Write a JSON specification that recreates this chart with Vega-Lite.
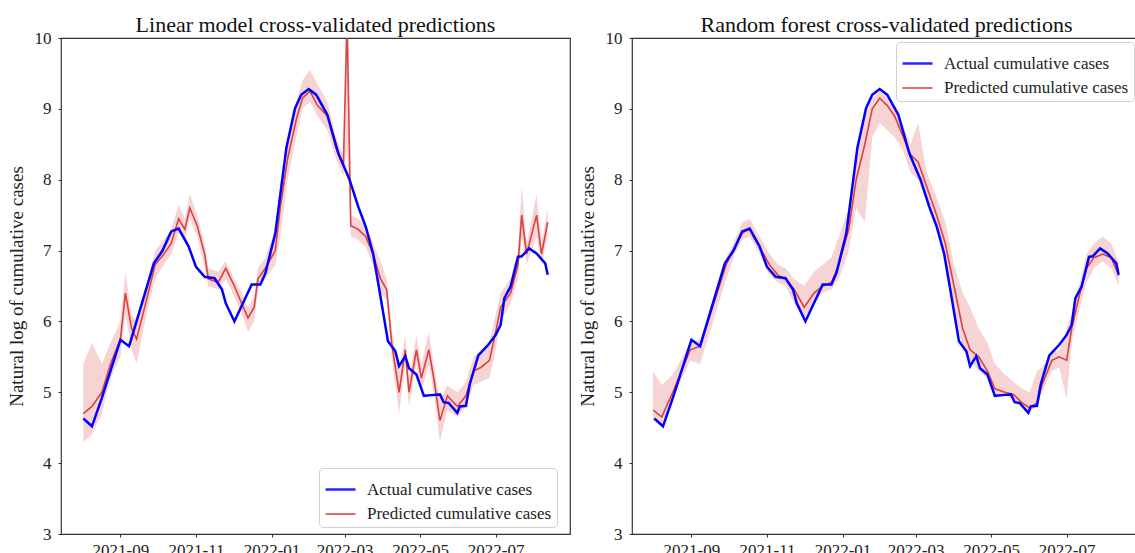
{
  "$schema": "https://vega.github.io/schema/vega-lite/v6.json",
  "background": "white",
  "padding": {"left": 6, "top": 13, "right": 0, "bottom": 0},
  "spacing": 6,
  "datasets": {
    "actual": [
      {"date": "2021-08-02", "value": 4.63, "series": "Actual cumulative cases"},
      {"date": "2021-08-09", "value": 4.52, "series": "Actual cumulative cases"},
      {"date": "2021-08-17", "value": 4.92, "series": "Actual cumulative cases"},
      {"date": "2021-09-01", "value": 5.74, "series": "Actual cumulative cases"},
      {"date": "2021-09-08", "value": 5.65, "series": "Actual cumulative cases"},
      {"date": "2021-09-28", "value": 6.82, "series": "Actual cumulative cases"},
      {"date": "2021-10-05", "value": 7.0, "series": "Actual cumulative cases"},
      {"date": "2021-10-12", "value": 7.27, "series": "Actual cumulative cases"},
      {"date": "2021-10-18", "value": 7.31, "series": "Actual cumulative cases"},
      {"date": "2021-10-26", "value": 7.06, "series": "Actual cumulative cases"},
      {"date": "2021-11-01", "value": 6.77, "series": "Actual cumulative cases"},
      {"date": "2021-11-08", "value": 6.63, "series": "Actual cumulative cases"},
      {"date": "2021-11-16", "value": 6.61, "series": "Actual cumulative cases"},
      {"date": "2021-11-22", "value": 6.45, "series": "Actual cumulative cases"},
      {"date": "2021-11-25", "value": 6.26, "series": "Actual cumulative cases"},
      {"date": "2021-12-02", "value": 6.0, "series": "Actual cumulative cases"},
      {"date": "2021-12-16", "value": 6.52, "series": "Actual cumulative cases"},
      {"date": "2021-12-23", "value": 6.52, "series": "Actual cumulative cases"},
      {"date": "2021-12-27", "value": 6.68, "series": "Actual cumulative cases"},
      {"date": "2022-01-04", "value": 7.24, "series": "Actual cumulative cases"},
      {"date": "2022-01-13", "value": 8.45, "series": "Actual cumulative cases"},
      {"date": "2022-01-20", "value": 9.01, "series": "Actual cumulative cases"},
      {"date": "2022-01-25", "value": 9.2, "series": "Actual cumulative cases"},
      {"date": "2022-01-31", "value": 9.28, "series": "Actual cumulative cases"},
      {"date": "2022-02-06", "value": 9.2, "series": "Actual cumulative cases"},
      {"date": "2022-02-15", "value": 8.92, "series": "Actual cumulative cases"},
      {"date": "2022-02-24", "value": 8.37, "series": "Actual cumulative cases"},
      {"date": "2022-03-05", "value": 8.0, "series": "Actual cumulative cases"},
      {"date": "2022-03-12", "value": 7.62, "series": "Actual cumulative cases"},
      {"date": "2022-03-18", "value": 7.34, "series": "Actual cumulative cases"},
      {"date": "2022-03-24", "value": 6.96, "series": "Actual cumulative cases"},
      {"date": "2022-03-29", "value": 6.45, "series": "Actual cumulative cases"},
      {"date": "2022-04-05", "value": 5.72, "series": "Actual cumulative cases"},
      {"date": "2022-04-11", "value": 5.58, "series": "Actual cumulative cases"},
      {"date": "2022-04-14", "value": 5.37, "series": "Actual cumulative cases"},
      {"date": "2022-04-19", "value": 5.51, "series": "Actual cumulative cases"},
      {"date": "2022-04-22", "value": 5.34, "series": "Actual cumulative cases"},
      {"date": "2022-04-28", "value": 5.25, "series": "Actual cumulative cases"},
      {"date": "2022-05-04", "value": 4.95, "series": "Actual cumulative cases"},
      {"date": "2022-05-10", "value": 4.96, "series": "Actual cumulative cases"},
      {"date": "2022-05-17", "value": 4.97, "series": "Actual cumulative cases"},
      {"date": "2022-05-20", "value": 4.86, "series": "Actual cumulative cases"},
      {"date": "2022-05-24", "value": 4.85, "series": "Actual cumulative cases"},
      {"date": "2022-05-31", "value": 4.71, "series": "Actual cumulative cases"},
      {"date": "2022-06-02", "value": 4.8, "series": "Actual cumulative cases"},
      {"date": "2022-06-07", "value": 4.81, "series": "Actual cumulative cases"},
      {"date": "2022-06-10", "value": 5.11, "series": "Actual cumulative cases"},
      {"date": "2022-06-17", "value": 5.52, "series": "Actual cumulative cases"},
      {"date": "2022-06-25", "value": 5.67, "series": "Actual cumulative cases"},
      {"date": "2022-07-01", "value": 5.81, "series": "Actual cumulative cases"},
      {"date": "2022-07-05", "value": 5.95, "series": "Actual cumulative cases"},
      {"date": "2022-07-08", "value": 6.33, "series": "Actual cumulative cases"},
      {"date": "2022-07-13", "value": 6.49, "series": "Actual cumulative cases"},
      {"date": "2022-07-19", "value": 6.91, "series": "Actual cumulative cases"},
      {"date": "2022-07-22", "value": 6.92, "series": "Actual cumulative cases"},
      {"date": "2022-07-28", "value": 7.03, "series": "Actual cumulative cases"},
      {"date": "2022-08-03", "value": 6.96, "series": "Actual cumulative cases"},
      {"date": "2022-08-10", "value": 6.82, "series": "Actual cumulative cases"},
      {"date": "2022-08-12", "value": 6.66, "series": "Actual cumulative cases"}
    ],
    "lin": [
      {"date": "2021-08-02", "lo": 4.3, "mid": 4.7, "hi": 5.4, "series": "Predicted cumulative cases"},
      {"date": "2021-08-09", "lo": 4.4, "mid": 4.8, "hi": 5.7, "series": "Predicted cumulative cases"},
      {"date": "2021-08-17", "lo": 4.7, "mid": 5.0, "hi": 5.4, "series": "Predicted cumulative cases"},
      {"date": "2021-08-24", "lo": 5.2, "mid": 5.4, "hi": 5.7, "series": "Predicted cumulative cases"},
      {"date": "2021-09-01", "lo": 5.5, "mid": 5.75, "hi": 6.0, "series": "Predicted cumulative cases"},
      {"date": "2021-09-05", "lo": 6.1, "mid": 6.4, "hi": 6.7, "series": "Predicted cumulative cases"},
      {"date": "2021-09-10", "lo": 5.6, "mid": 5.9, "hi": 6.1, "series": "Predicted cumulative cases"},
      {"date": "2021-09-14", "lo": 5.4, "mid": 5.75, "hi": 6.0, "series": "Predicted cumulative cases"},
      {"date": "2021-09-22", "lo": 6.1, "mid": 6.3, "hi": 6.5, "series": "Predicted cumulative cases"},
      {"date": "2021-09-29", "lo": 6.6, "mid": 6.8, "hi": 7.0, "series": "Predicted cumulative cases"},
      {"date": "2021-10-06", "lo": 6.8, "mid": 6.95, "hi": 7.15, "series": "Predicted cumulative cases"},
      {"date": "2021-10-12", "lo": 6.95, "mid": 7.1, "hi": 7.3, "series": "Predicted cumulative cases"},
      {"date": "2021-10-18", "lo": 7.25, "mid": 7.45, "hi": 7.65, "series": "Predicted cumulative cases"},
      {"date": "2021-10-23", "lo": 7.15, "mid": 7.3, "hi": 7.45, "series": "Predicted cumulative cases"},
      {"date": "2021-10-27", "lo": 7.45, "mid": 7.6, "hi": 7.8, "series": "Predicted cumulative cases"},
      {"date": "2021-11-02", "lo": 7.2, "mid": 7.35, "hi": 7.5, "series": "Predicted cumulative cases"},
      {"date": "2021-11-08", "lo": 6.75, "mid": 6.95, "hi": 7.1, "series": "Predicted cumulative cases"},
      {"date": "2021-11-11", "lo": 6.5, "mid": 6.6, "hi": 6.75, "series": "Predicted cumulative cases"},
      {"date": "2021-11-19", "lo": 6.45, "mid": 6.55, "hi": 6.7, "series": "Predicted cumulative cases"},
      {"date": "2021-11-25", "lo": 6.6, "mid": 6.75, "hi": 6.85, "series": "Predicted cumulative cases"},
      {"date": "2021-12-02", "lo": 6.35, "mid": 6.5, "hi": 6.6, "series": "Predicted cumulative cases"},
      {"date": "2021-12-08", "lo": 6.1, "mid": 6.25, "hi": 6.4, "series": "Predicted cumulative cases"},
      {"date": "2021-12-13", "lo": 5.85, "mid": 6.05, "hi": 6.2, "series": "Predicted cumulative cases"},
      {"date": "2021-12-18", "lo": 6.0, "mid": 6.2, "hi": 6.35, "series": "Predicted cumulative cases"},
      {"date": "2021-12-21", "lo": 6.45, "mid": 6.6, "hi": 6.75, "series": "Predicted cumulative cases"},
      {"date": "2021-12-27", "lo": 6.6, "mid": 6.75, "hi": 6.9, "series": "Predicted cumulative cases"},
      {"date": "2022-01-04", "lo": 6.8, "mid": 7.0, "hi": 7.3, "series": "Predicted cumulative cases"},
      {"date": "2022-01-08", "lo": 7.2, "mid": 7.6, "hi": 7.9, "series": "Predicted cumulative cases"},
      {"date": "2022-01-14", "lo": 8.0, "mid": 8.3, "hi": 8.6, "series": "Predicted cumulative cases"},
      {"date": "2022-01-21", "lo": 8.6, "mid": 8.85, "hi": 9.1, "series": "Predicted cumulative cases"},
      {"date": "2022-01-26", "lo": 9.0, "mid": 9.15, "hi": 9.4, "series": "Predicted cumulative cases"},
      {"date": "2022-02-01", "lo": 9.1, "mid": 9.25, "hi": 9.55, "series": "Predicted cumulative cases"},
      {"date": "2022-02-07", "lo": 8.9, "mid": 9.05, "hi": 9.35, "series": "Predicted cumulative cases"},
      {"date": "2022-02-15", "lo": 8.7, "mid": 8.9, "hi": 9.1, "series": "Predicted cumulative cases"},
      {"date": "2022-02-22", "lo": 8.3, "mid": 8.45, "hi": 8.6, "series": "Predicted cumulative cases"},
      {"date": "2022-02-28", "lo": 8.05, "mid": 8.2, "hi": 8.35, "series": "Predicted cumulative cases"},
      {"date": "2022-03-03", "lo": 8.4, "mid": 10.3, "hi": 10.3, "series": "Predicted cumulative cases"},
      {"date": "2022-03-06", "lo": 7.2, "mid": 7.35, "hi": 7.5, "series": "Predicted cumulative cases"},
      {"date": "2022-03-12", "lo": 7.15, "mid": 7.3, "hi": 7.45, "series": "Predicted cumulative cases"},
      {"date": "2022-03-18", "lo": 7.05, "mid": 7.2, "hi": 7.35, "series": "Predicted cumulative cases"},
      {"date": "2022-03-24", "lo": 6.8, "mid": 6.95, "hi": 7.1, "series": "Predicted cumulative cases"},
      {"date": "2022-03-30", "lo": 6.4, "mid": 6.6, "hi": 6.85, "series": "Predicted cumulative cases"},
      {"date": "2022-04-04", "lo": 6.3, "mid": 6.45, "hi": 6.6, "series": "Predicted cumulative cases"},
      {"date": "2022-04-08", "lo": 5.5, "mid": 5.7, "hi": 5.9, "series": "Predicted cumulative cases"},
      {"date": "2022-04-14", "lo": 4.7, "mid": 5.0, "hi": 5.3, "series": "Predicted cumulative cases"},
      {"date": "2022-04-19", "lo": 5.4, "mid": 5.6, "hi": 5.8, "series": "Predicted cumulative cases"},
      {"date": "2022-04-22", "lo": 4.8, "mid": 5.0, "hi": 5.2, "series": "Predicted cumulative cases"},
      {"date": "2022-04-28", "lo": 5.4, "mid": 5.6, "hi": 5.8, "series": "Predicted cumulative cases"},
      {"date": "2022-05-02", "lo": 5.0, "mid": 5.2, "hi": 5.4, "series": "Predicted cumulative cases"},
      {"date": "2022-05-08", "lo": 5.4, "mid": 5.6, "hi": 5.85, "series": "Predicted cumulative cases"},
      {"date": "2022-05-12", "lo": 5.0, "mid": 5.2, "hi": 5.4, "series": "Predicted cumulative cases"},
      {"date": "2022-05-17", "lo": 4.3, "mid": 4.6, "hi": 4.9, "series": "Predicted cumulative cases"},
      {"date": "2022-05-23", "lo": 4.75, "mid": 4.95, "hi": 5.1, "series": "Predicted cumulative cases"},
      {"date": "2022-05-31", "lo": 4.65, "mid": 4.8, "hi": 5.0, "series": "Predicted cumulative cases"},
      {"date": "2022-06-07", "lo": 4.8, "mid": 4.95, "hi": 5.15, "series": "Predicted cumulative cases"},
      {"date": "2022-06-13", "lo": 5.1, "mid": 5.3, "hi": 5.5, "series": "Predicted cumulative cases"},
      {"date": "2022-06-19", "lo": 5.15, "mid": 5.35, "hi": 5.6, "series": "Predicted cumulative cases"},
      {"date": "2022-06-26", "lo": 5.2, "mid": 5.45, "hi": 5.7, "series": "Predicted cumulative cases"},
      {"date": "2022-07-01", "lo": 5.6, "mid": 5.85, "hi": 6.1, "series": "Predicted cumulative cases"},
      {"date": "2022-07-05", "lo": 6.0, "mid": 6.2, "hi": 6.4, "series": "Predicted cumulative cases"},
      {"date": "2022-07-13", "lo": 6.25, "mid": 6.4, "hi": 6.6, "series": "Predicted cumulative cases"},
      {"date": "2022-07-19", "lo": 6.6, "mid": 6.8, "hi": 7.0, "series": "Predicted cumulative cases"},
      {"date": "2022-07-22", "lo": 7.2, "mid": 7.5, "hi": 7.9, "series": "Predicted cumulative cases"},
      {"date": "2022-07-26", "lo": 6.8, "mid": 6.95, "hi": 7.1, "series": "Predicted cumulative cases"},
      {"date": "2022-08-03", "lo": 7.2, "mid": 7.5, "hi": 7.8, "series": "Predicted cumulative cases"},
      {"date": "2022-08-07", "lo": 6.8, "mid": 6.95, "hi": 7.1, "series": "Predicted cumulative cases"},
      {"date": "2022-08-12", "lo": 7.2, "mid": 7.4, "hi": 7.6, "series": "Predicted cumulative cases"}
    ],
    "rf": [
      {"date": "2021-08-01", "lo": 4.6, "mid": 4.75, "hi": 5.3, "series": "Predicted cumulative cases"},
      {"date": "2021-08-08", "lo": 4.55, "mid": 4.65, "hi": 5.1, "series": "Predicted cumulative cases"},
      {"date": "2021-08-17", "lo": 4.9, "mid": 5.0, "hi": 5.25, "series": "Predicted cumulative cases"},
      {"date": "2021-08-31", "lo": 5.45, "mid": 5.6, "hi": 5.7, "series": "Predicted cumulative cases"},
      {"date": "2021-09-08", "lo": 5.4, "mid": 5.65, "hi": 5.75, "series": "Predicted cumulative cases"},
      {"date": "2021-09-29", "lo": 6.6, "mid": 6.8, "hi": 6.9, "series": "Predicted cumulative cases"},
      {"date": "2021-10-06", "lo": 6.95, "mid": 7.05, "hi": 7.15, "series": "Predicted cumulative cases"},
      {"date": "2021-10-12", "lo": 7.15, "mid": 7.25, "hi": 7.4, "series": "Predicted cumulative cases"},
      {"date": "2021-10-18", "lo": 7.2, "mid": 7.3, "hi": 7.45, "series": "Predicted cumulative cases"},
      {"date": "2021-10-26", "lo": 6.95, "mid": 7.05, "hi": 7.2, "series": "Predicted cumulative cases"},
      {"date": "2021-11-03", "lo": 6.65, "mid": 6.8, "hi": 6.95, "series": "Predicted cumulative cases"},
      {"date": "2021-11-10", "lo": 6.55, "mid": 6.65, "hi": 6.8, "series": "Predicted cumulative cases"},
      {"date": "2021-11-16", "lo": 6.5, "mid": 6.6, "hi": 6.75, "series": "Predicted cumulative cases"},
      {"date": "2021-11-23", "lo": 6.25, "mid": 6.45, "hi": 6.6, "series": "Predicted cumulative cases"},
      {"date": "2021-12-01", "lo": 6.05, "mid": 6.2, "hi": 6.5, "series": "Predicted cumulative cases"},
      {"date": "2021-12-09", "lo": 6.25, "mid": 6.4, "hi": 6.7, "series": "Predicted cumulative cases"},
      {"date": "2021-12-16", "lo": 6.4, "mid": 6.5, "hi": 6.8, "series": "Predicted cumulative cases"},
      {"date": "2021-12-23", "lo": 6.45, "mid": 6.55, "hi": 6.9, "series": "Predicted cumulative cases"},
      {"date": "2021-12-29", "lo": 6.6, "mid": 6.8, "hi": 7.2, "series": "Predicted cumulative cases"},
      {"date": "2022-01-06", "lo": 7.0, "mid": 7.3, "hi": 7.6, "series": "Predicted cumulative cases"},
      {"date": "2022-01-12", "lo": 7.6, "mid": 8.0, "hi": 8.3, "series": "Predicted cumulative cases"},
      {"date": "2022-01-19", "lo": 7.4, "mid": 8.5, "hi": 8.9, "series": "Predicted cumulative cases"},
      {"date": "2022-01-25", "lo": 8.6, "mid": 9.0, "hi": 9.15, "series": "Predicted cumulative cases"},
      {"date": "2022-01-31", "lo": 8.8, "mid": 9.15, "hi": 9.25, "series": "Predicted cumulative cases"},
      {"date": "2022-02-06", "lo": 8.7, "mid": 9.05, "hi": 9.15, "series": "Predicted cumulative cases"},
      {"date": "2022-02-12", "lo": 8.6, "mid": 8.9, "hi": 9.0, "series": "Predicted cumulative cases"},
      {"date": "2022-02-18", "lo": 8.45, "mid": 8.65, "hi": 8.8, "series": "Predicted cumulative cases"},
      {"date": "2022-02-25", "lo": 8.1, "mid": 8.35, "hi": 8.5, "series": "Predicted cumulative cases"},
      {"date": "2022-03-03", "lo": 8.0, "mid": 8.25, "hi": 8.8, "series": "Predicted cumulative cases"},
      {"date": "2022-03-10", "lo": 7.7, "mid": 7.9, "hi": 8.1, "series": "Predicted cumulative cases"},
      {"date": "2022-03-18", "lo": 7.3, "mid": 7.5, "hi": 7.75, "series": "Predicted cumulative cases"},
      {"date": "2022-03-25", "lo": 6.9, "mid": 7.1, "hi": 7.4, "series": "Predicted cumulative cases"},
      {"date": "2022-04-01", "lo": 6.2, "mid": 6.5, "hi": 6.8, "series": "Predicted cumulative cases"},
      {"date": "2022-04-08", "lo": 5.6, "mid": 5.9, "hi": 6.4, "series": "Predicted cumulative cases"},
      {"date": "2022-04-14", "lo": 5.45, "mid": 5.6, "hi": 6.2, "series": "Predicted cumulative cases"},
      {"date": "2022-04-21", "lo": 5.3, "mid": 5.5, "hi": 5.9, "series": "Predicted cumulative cases"},
      {"date": "2022-04-28", "lo": 5.2, "mid": 5.3, "hi": 5.7, "series": "Predicted cumulative cases"},
      {"date": "2022-05-04", "lo": 4.95, "mid": 5.05, "hi": 5.4, "series": "Predicted cumulative cases"},
      {"date": "2022-05-12", "lo": 4.95, "mid": 5.0, "hi": 5.25, "series": "Predicted cumulative cases"},
      {"date": "2022-05-19", "lo": 4.9, "mid": 4.97, "hi": 5.15, "series": "Predicted cumulative cases"},
      {"date": "2022-05-26", "lo": 4.78, "mid": 4.85, "hi": 5.05, "series": "Predicted cumulative cases"},
      {"date": "2022-06-01", "lo": 4.72, "mid": 4.78, "hi": 5.0, "series": "Predicted cumulative cases"},
      {"date": "2022-06-07", "lo": 4.8, "mid": 4.85, "hi": 5.3, "series": "Predicted cumulative cases"},
      {"date": "2022-06-11", "lo": 5.0, "mid": 5.1, "hi": 5.35, "series": "Predicted cumulative cases"},
      {"date": "2022-06-19", "lo": 5.3, "mid": 5.45, "hi": 5.55, "series": "Predicted cumulative cases"},
      {"date": "2022-06-25", "lo": 5.35, "mid": 5.5, "hi": 5.6, "series": "Predicted cumulative cases"},
      {"date": "2022-07-01", "lo": 4.9, "mid": 5.45, "hi": 5.9, "series": "Predicted cumulative cases"},
      {"date": "2022-07-05", "lo": 5.7, "mid": 5.9, "hi": 6.1, "series": "Predicted cumulative cases"},
      {"date": "2022-07-11", "lo": 6.15, "mid": 6.35, "hi": 6.5, "series": "Predicted cumulative cases"},
      {"date": "2022-07-17", "lo": 6.55, "mid": 6.75, "hi": 6.95, "series": "Predicted cumulative cases"},
      {"date": "2022-07-23", "lo": 6.75, "mid": 6.9, "hi": 7.1, "series": "Predicted cumulative cases"},
      {"date": "2022-07-30", "lo": 6.85, "mid": 6.95, "hi": 7.2, "series": "Predicted cumulative cases"},
      {"date": "2022-08-06", "lo": 6.75, "mid": 6.9, "hi": 7.1, "series": "Predicted cumulative cases"},
      {"date": "2022-08-12", "lo": 6.5, "mid": 6.65, "hi": 6.85, "series": "Predicted cumulative cases"}
    ]
  },
  "config": {
    "font": "Liberation Serif",
    "view": {"stroke": "#333333", "strokeWidth": 1.2},
    "axis": {
      "grid": false, "domain": false, "ticks": true, "tickColor": "#333333", "tickSize": 3,
      "labelFont": "Liberation Serif", "labelFontSize": 17, "labelColor": "#222222",
      "titleFont": "Liberation Serif", "titleFontSize": 19, "titleFontWeight": "normal", "titleColor": "#222222"
    },
    "title": {"font": "Liberation Serif", "fontSize": 22, "fontWeight": "normal", "color": "#111111", "offset": -8, "anchor": "middle"},
    "legend": {
      "title": null, "symbolType": "stroke", "symbolSize": 900, "labelFont": "Liberation Serif", "labelFontSize": 17,
      "labelColor": "#222222", "labelOffset": 10, "labelLimit": 300, "rowPadding": 0, "padding": 5,
      "fillColor": "white", "strokeColor": "#d0d0d0", "cornerRadius": 4
    }
  },
  "resolve": {
    "scale": {"x": "independent", "y": "independent", "color": "independent", "strokeWidth": "independent"},
    "legend": {"color": "independent", "strokeWidth": "independent"}
  },
  "hconcat": [
    {
      "width": 509,
      "height": 496,
      "title": "Linear model cross-validated predictions",
      "layer": [
        {
          "data": {"name": "lin"},
          "mark": {"type": "area", "color": "#d62728", "opacity": 0.2, "clip": true},
          "encoding": {
            "x": {"field": "date", "type": "temporal",
              "scale": {"type": "utc", "domain": [{"year": 2021, "month": 7, "date": 15, "utc": true}, {"year": 2022, "month": 8, "date": 30, "utc": true}]},
              "axis": {"title": null, "format": "%Y-%m", "labelPadding": 5,
                "values": [{"year": 2021, "month": 9, "date": 1, "utc": true}, {"year": 2021, "month": 11, "date": 1, "utc": true}, {"year": 2022, "month": 1, "date": 1, "utc": true}, {"year": 2022, "month": 3, "date": 1, "utc": true}, {"year": 2022, "month": 5, "date": 1, "utc": true}, {"year": 2022, "month": 7, "date": 1, "utc": true}]}},
            "y": {"field": "lo", "type": "quantitative", "scale": {"domain": [3, 10], "nice": false},
              "axis": {"title": "Natural log of cumulative cases", "format": "d", "values": [3, 4, 5, 6, 7, 8, 9, 10], "labelPadding": 7, "titlePadding": 8}},
            "y2": {"field": "hi"}
          }
        },
        {
          "data": {"name": "lin"},
          "mark": {"type": "line", "opacity": 0.85, "clip": true},
          "encoding": {
            "x": {"field": "date", "type": "temporal"},
            "y": {"field": "mid", "type": "quantitative"},
            "color": {"field": "series", "type": "nominal",
              "scale": {"domain": ["Actual cumulative cases", "Predicted cumulative cases"], "range": ["#0000ff", "#d62728"]},
              "legend": {"orient": "none", "legendX": 258, "legendY": 430}},
            "strokeWidth": {"field": "series", "type": "nominal",
              "scale": {"domain": ["Actual cumulative cases", "Predicted cumulative cases"], "range": [2.5, 1.6]},
              "legend": {"orient": "none", "legendX": 258, "legendY": 430}}
          }
        },
        {
          "data": {"name": "actual"},
          "mark": {"type": "line"},
          "encoding": {
            "x": {"field": "date", "type": "temporal"},
            "y": {"field": "value", "type": "quantitative"},
            "color": {"field": "series", "type": "nominal"},
            "strokeWidth": {"field": "series", "type": "nominal"}
          }
        }
      ]
    },
    {
      "width": 509,
      "height": 496,
      "title": "Random forest cross-validated predictions",
      "layer": [
        {
          "data": {"name": "rf"},
          "mark": {"type": "area", "color": "#d62728", "opacity": 0.2, "clip": true},
          "encoding": {
            "x": {"field": "date", "type": "temporal",
              "scale": {"type": "utc", "domain": [{"year": 2021, "month": 7, "date": 15, "utc": true}, {"year": 2022, "month": 8, "date": 30, "utc": true}]},
              "axis": {"title": null, "format": "%Y-%m", "labelPadding": 5,
                "values": [{"year": 2021, "month": 9, "date": 1, "utc": true}, {"year": 2021, "month": 11, "date": 1, "utc": true}, {"year": 2022, "month": 1, "date": 1, "utc": true}, {"year": 2022, "month": 3, "date": 1, "utc": true}, {"year": 2022, "month": 5, "date": 1, "utc": true}, {"year": 2022, "month": 7, "date": 1, "utc": true}]}},
            "y": {"field": "lo", "type": "quantitative", "scale": {"domain": [3, 10], "nice": false},
              "axis": {"title": "Natural log of cumulative cases", "format": "d", "values": [3, 4, 5, 6, 7, 8, 9, 10], "labelPadding": 7, "titlePadding": 8}},
            "y2": {"field": "hi"}
          }
        },
        {
          "data": {"name": "rf"},
          "mark": {"type": "line", "opacity": 0.85, "clip": true},
          "encoding": {
            "x": {"field": "date", "type": "temporal"},
            "y": {"field": "mid", "type": "quantitative"},
            "color": {"field": "series", "type": "nominal",
              "scale": {"domain": ["Actual cumulative cases", "Predicted cumulative cases"], "range": ["#0000ff", "#d62728"]},
              "legend": {"orient": "none", "legendX": 264, "legendY": 4}},
            "strokeWidth": {"field": "series", "type": "nominal",
              "scale": {"domain": ["Actual cumulative cases", "Predicted cumulative cases"], "range": [2.5, 1.6]},
              "legend": {"orient": "none", "legendX": 264, "legendY": 4}}
          }
        },
        {
          "data": {"name": "actual"},
          "mark": {"type": "line"},
          "encoding": {
            "x": {"field": "date", "type": "temporal"},
            "y": {"field": "value", "type": "quantitative"},
            "color": {"field": "series", "type": "nominal"},
            "strokeWidth": {"field": "series", "type": "nominal"}
          }
        }
      ]
    }
  ]
}
